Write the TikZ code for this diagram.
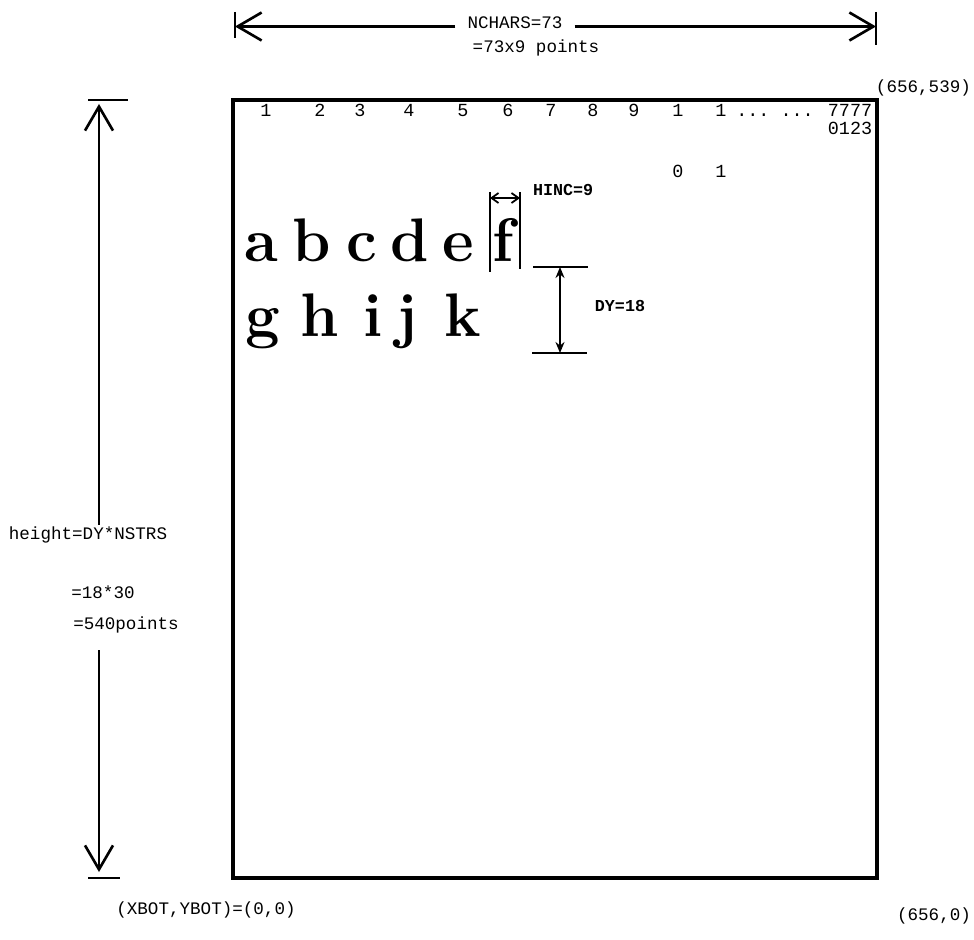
\documentclass[tikz,border=0pt]{standalone}
\usepackage{fontspec}
\setmonofont{Liberation Mono}
\usetikzlibrary{arrows.meta,positioning}

\tikzset{
  label/.style={font=\ttfamily\fontsize{10}{12}\selectfont, inner sep=1pt},
  boldlabel/.style={font=\ttfamily\bfseries\fontsize{9.5}{11}\selectfont, inner sep=1pt},
  colnum/.style={font=\ttfamily\fontsize{10.5}{12}\selectfont, inner sep=0pt, anchor=base},
  bigchar/.style={font=\bfseries\fontsize{35}{40}\selectfont, anchor=base, inner sep=0pt},
  dimline/.style={line width=1.5pt},
  dimarrow/.style={line width=1.5pt, -{Straight Barb[length=4.8mm,width=5.6mm]}},
  smallarrow/.style={line width=1pt, {Straight Barb[length=1.4mm,width=2mm]}-{Straight Barb[length=1.4mm,width=2mm]}},
  dyarrow/.style={line width=1.3pt, {Stealth[length=2.2mm,width=1.8mm]}-{Stealth[length=2.2mm,width=1.8mm]}}
}

\begin{document}
\begin{tikzpicture}

  \useasboundingbox (0,0) rectangle (19.48,18.78);

  % page frame
  \draw[line width=1.8pt] (4.66,1.22) rectangle (17.54,16.78);

  % width: NCHARS
  \coordinate (wl) at (4.70,18.25);
  \coordinate (wr) at (17.52,18.25);
  \draw[dimline] (4.70,18.54) -- (4.70,18.02);
  \draw[dimline] (17.52,18.54) -- (17.52,17.88);
  \node[label] (nchars) at (10.30,18.32) {NCHARS=73};
  \node[label] (npts) at (10.72,17.82) {=73x9 points};
  \draw[dimarrow] (nchars.west |- wl) ++(-0.2,0) -- (wl);
  \draw[dimarrow] (nchars.east |- wr) ++(0.2,0) -- (wr);

  % corner coordinates
  \node[label, anchor=east] (tr) at (19.46,17.02) {(656,539)};
  \node[label] (bl) at (4.12,0.58) {(XBOT,YBOT)=(0,0)};
  \node[label, anchor=east] (br) at (19.46,0.46) {(656,0)};

  % column numbers
  \foreach \x/\t [count=\i] in {5.32/1,6.40/2,7.20/3,8.18/4,9.26/5,10.16/6,11.02/7,11.86/8,12.68/9,13.56/1,14.42/1}
    \node[colnum] (col\i) at (\x,16.44) {\t};
  \node[colnum] (dots) at (15.50,16.44) {.\kern0pt.\kern0pt. .\kern0pt.\kern0pt.};
  \node[colnum] (c70) at (17.00,16.44) {7777};
  \node[colnum] (c70b) at (17.00,16.08) {0123};
  \node[colnum] (col10b) at (13.56,15.22) {0};
  \node[colnum] (col11b) at (14.42,15.22) {1};

  % sample strings
  \foreach \x/\c [count=\i] in {5.22/a,6.24/b,7.24/c,8.20/d,9.16/e,10.06/f}
    \node[bigchar] (top\i) at (\x,13.54) {\c};
  \foreach \x/\c [count=\i] in {5.26/g,6.40/h,7.46/i,8.14/j,9.26/k}
    \node[bigchar] (bot\i) at (\x,12.04) {\c};

  % HINC
  \coordinate (hl) at (9.80,14.82);
  \coordinate (hr) at (10.40,14.82);
  \draw[line width=1pt] (9.80,14.94) -- (9.80,13.34);
  \draw[line width=1pt] (10.40,14.94) -- (10.40,13.40);
  \draw[smallarrow] (hl) -- (hr);
  \node[boldlabel, anchor=west] (hinc) at (10.62,14.98) {HINC=9};

  % DY
  \coordinate (dyt) at (11.20,13.44);
  \coordinate (dyb) at (11.20,11.72);
  \draw[dimline] (10.66,13.44) -- (11.76,13.44);
  \draw[dimline] (10.64,11.72) -- (11.74,11.72);
  \draw[dyarrow] (dyt) -- (dyb);
  \node[boldlabel] (dy) at (12.40,12.66) {DY=18};

  % height
  \coordinate (htop) at (1.98,16.70);
  \coordinate (hbot) at (1.98,1.34);
  \draw[dimline] (1.76,16.78) -- (2.56,16.78);
  \draw[dimline] (1.76,1.22) -- (2.40,1.22);
  \node[label] (hgt) at (1.76,8.08) {height=DY*NSTRS};
  \node[label] (h1830) at (2.06,6.94) {=18*30};
  \node[label] (h540) at (2.52,6.28) {=540points};
  \draw[dimarrow] (hgt.north -| htop) -- (htop);
  \draw[dimarrow] (h540.south -| hbot) ++(0,-0.3) -- (hbot);

\end{tikzpicture}
\end{document}
